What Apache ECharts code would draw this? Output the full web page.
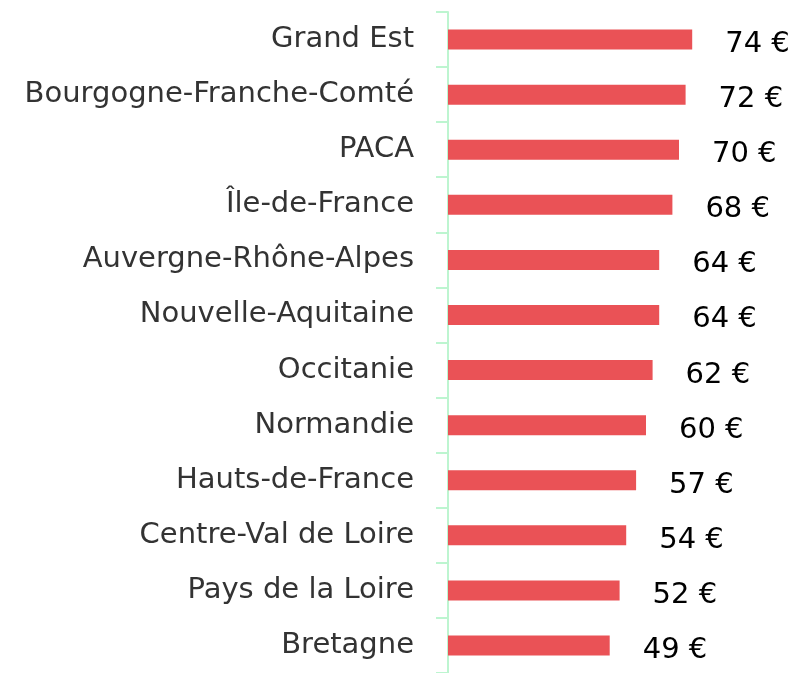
<!DOCTYPE html>
<html>
<head>
<meta charset="utf-8">
<script src="https://cdn.jsdelivr.net/npm/echarts@6/dist/echarts.min.js"></script>
<style>
  html, body { margin: 0; padding: 0; background: #fff; }
  #chart { width: 795px; height: 673px; }
</style>
</head>
<body>
<div id="chart"></div>
<script>
// régions et prix moyens
const regions = [
  "Grand Est", "Bourgogne-Franche-Comté", "PACA", "Île-de-France",
  "Auvergne-Rhône-Alpes", "Nouvelle-Aquitaine", "Occitanie", "Normandie",
  "Hauts-de-France", "Centre-Val de Loire", "Pays de la Loire", "Bretagne"
];
const prix = [74, 72, 70, 68, 64, 64, 62, 60, 57, 54, 52, 49];

let myChart = echarts.init(document.getElementById("chart"));
let option = {
  animation: false,
  grid: { left: 448, top: 12, width: 330, height: 666 },
  xAxis: {
    type: "value",
    min: 0,
    max: 100,
    show: false
  },
  yAxis: {
    type: "category",
    inverse: true,
    data: regions,
    axisLine: { show: true, lineStyle: { color: "#bdf5d0", width: 2 } },
    axisTick: { show: true, length: 12, lineStyle: { color: "#bdf5d0", width: 2 } },
    axisLabel: {
      margin: 34,
      color: "#333333",
      fontSize: 29,
      fontFamily: "DejaVu Sans",
      padding: [6, 0, 0, 0]
    }
  },
  series: [
    {
      type: "bar",
      data: prix,
      barWidth: 20,
      itemStyle: { color: "#ea5256" },
      label: {
        show: true,
        position: "right",
        offset: [28, 5],
        formatter: "{c} €",
        color: "#000000",
        fontSize: 29,
        fontFamily: "DejaVu Sans"
      }
    }
  ]
};
myChart.setOption(option);
window.addEventListener("resize", () => {
  myChart.resize();
});
</script>
</body>
</html>
